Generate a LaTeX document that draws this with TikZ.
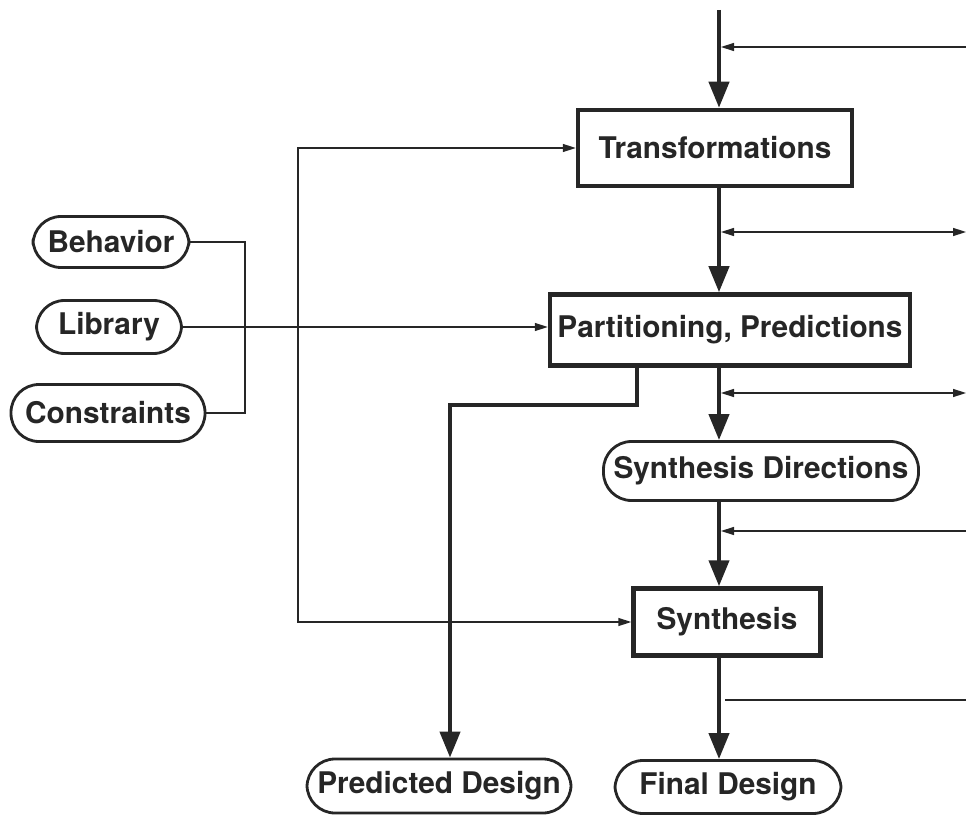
\documentclass[tikz,border=0pt]{standalone}
\usepackage{fontspec}
\setmainfont{TeX Gyre Heros}
\usetikzlibrary{arrows.meta}
\definecolor{ink}{HTML}{262626}
\begin{document}
\begin{tikzpicture}[x=1pt,y=-1pt,
  every node/.style={font=\fontsize{29.8}{32}\selectfont\bfseries, text=ink, inner sep=0pt},
  procbox/.style={draw=ink, line width=4.5pt, rectangle},
  termbox/.style={draw=ink, line width=2.8pt, rectangle, rounded corners=28pt},
  mainflow/.style={draw=ink, line width=4.2pt, -{Triangle[length=26pt,width=20pt]}},
  thinline/.style={draw=ink, line width=1.5pt},
  thinarrow/.style={thinline, -{Triangle[length=13pt,width=8pt]}},
  thinboth/.style={thinline, {Triangle[length=13pt,width=8pt]}-{Triangle[length=13pt,width=8pt]}}
]
\useasboundingbox (0,0) rectangle (966,818);

% nodes
\node[procbox, minimum width=274pt, minimum height=76pt] (trans) at (715,148) {Transformations};
\node[procbox, minimum width=360pt, minimum height=71pt] (part) at (730,330) {Partitioning, Predictions};
\node[termbox, minimum width=315pt, minimum height=59pt] (sdir) at (761,471) {Synthesis Directions};
\node[procbox, minimum width=187pt, minimum height=67pt] (synth) at (727,622) {Synthesis};
\node[termbox, minimum width=264pt, minimum height=54pt] (pred) at (439,786) {Predicted Design};
\node[termbox, minimum width=226pt, minimum height=53pt] (final) at (728,787) {Final Design};
\node[termbox, minimum width=156pt, minimum height=51pt] (beh) at (111,242) {Behavior};
\node[termbox, minimum width=145pt, minimum height=53pt] (lib) at (109,327) {Library};
\node[termbox, minimum width=194pt, minimum height=57pt] (cons) at (108,413) {Constraints};

% coordinates
\coordinate (top) at (719,10);
\coordinate (r1) at (966,47);
\coordinate (r2) at (966,232);
\coordinate (r3) at (966,393);
\coordinate (r4) at (966,531);
\coordinate (r5) at (966,700);
\coordinate (r5s) at (725,700);
\coordinate (brk) at (245,327);
\coordinate (fbx) at (298,400);
\coordinate (pa) at (637,405);
\coordinate (pb) at (450,405);

% main flow
\draw[mainflow] (top) -- (top |- trans.north);
\draw[mainflow] (top |- trans.south) -- (top |- part.north);
\draw[mainflow] (top |- part.south) -- (top |- sdir.north);
\draw[mainflow] (top |- sdir.south) -- (top |- synth.north);
\draw[mainflow] (top |- synth.south) -- (top |- final.north);

% predicted path
\draw[mainflow] (pa |- part.south) -- (pa) -- (pb) -- (pb |- pred.north);

% right side lines
\draw[thinarrow] (r1) -- ([xshift=2pt]r1 -| top);
\draw[thinboth] (r2) -- ([xshift=2pt]r2 -| top);
\draw[thinboth] (r3) -- ([xshift=2pt]r3 -| top);
\draw[thinarrow] (r4) -- ([xshift=2pt]r4 -| top);
\draw[thinline] (r5) -- (r5s);

% left inputs
\draw[thinline] (beh.east) -| (brk) |- (cons.east);
\draw[thinarrow] (lib.east) -- (lib.east -| part.west);
\draw[thinboth] (trans.west) -| (fbx) |- (synth.west);
\end{tikzpicture}
\end{document}
